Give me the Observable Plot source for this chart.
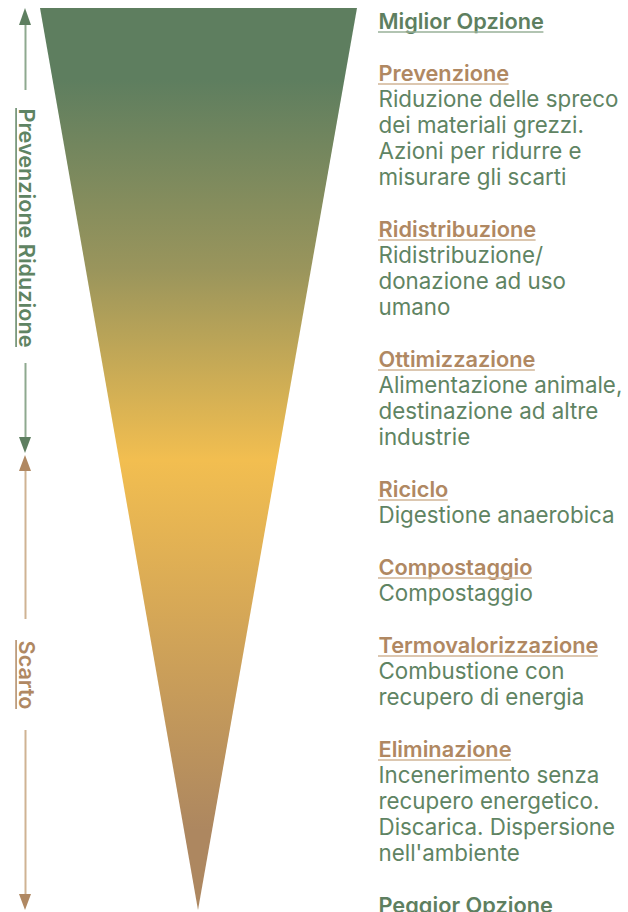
<!DOCTYPE html>
<html>
<head>
<meta charset="utf-8">
<script src="https://cdn.jsdelivr.net/npm/d3@7"></script>
<script src="https://cdn.jsdelivr.net/npm/@observablehq/plot@0.6"></script>
<style>
  html, body { margin: 0; padding: 0; background: #fff; }
  #chart svg { display: block; }
</style>
</head>
<body>
<div id="chart"></div>
<script>
// ---- content ----
const bestLabel = "Miglior Opzione";
const worstLabel = "Peggior Opzione";
const levels = ["Prevenzione", "Ridistribuzione", "Ottimizzazione", "Riciclo", "Compostaggio", "Termovalorizzazione", "Eliminazione"];
const descriptions = [
  ["Riduzione delle spreco", "dei materiali grezzi.", "Azioni per ridurre e", "misurare gli scarti"],
  ["Ridistribuzione/", "donazione ad uso", "umano"],
  ["Alimentazione animale,", "destinazione ad altre", "industrie"],
  ["Digestione anaerobica"],
  ["Compostaggio"],
  ["Combustione con", "recupero di energia"],
  ["Incenerimento senza", "recupero energetico.", "Discarica. Dispersione", "nell'ambiente"]
];
const sideLabels = ["Prevenzione Riduzione", "Scarto"];

// ---- funnel geometry (pixel space) ----
const funnel = [
  {y: 8, x1: 40, x2: 357},
  {y: 910, x1: 198, x2: 198}
];
const sideX = 25;
const shafts = [
  {group: 0, y1: 25, y2: 90}, {group: 0, y1: 363, y2: 438},
  {group: 1, y1: 470, y2: 619}, {group: 1, y1: 730, y2: 895}
];
const heads = [
  {id: "g-up", group: 0, tip: 8, base: 25},
  {id: "g-down", group: 0, tip: 453, base: 437},
  {id: "b-up", group: 1, tip: 455, base: 471},
  {id: "b-down", group: 1, tip: 910, base: 894}
];
const sideLabelY = [227.5, 674.5];

// ---- style ----
const green = "#5e7f60", greenText = "#5f8463", greenLine = "#8ea98f";
const brown = "#b08862", brownLine = "#cfb393";
const textX = 378, lineTop = 21.5, lineHeight = 26;
const family = "Inter, 'Noto Sans', sans-serif";

const ctx = document.createElement("canvas").getContext("2d");
function measure(text, weight, size) {
  ctx.font = `${weight} ${size}px ${family}`;
  return ctx.measureText(text).width;
}
const bodySize = 100 * 240 / measure("Riduzione delle spreco", 400, 100);
const headSize = 100 * 220 / measure("Termovalorizzazione", 600, 100);
const sideSize = 100 * 239 / measure("Prevenzione Riduzione", 600, 100);

// ---- rows of right-hand text ----
const rows = [];
let line = 0;
rows.push({text: bestLabel, kind: "end", line: line, underline: true});
line += 2;
levels.forEach((lv, k) => {
  rows.push({text: lv, kind: "head", line: line, underline: true});
  line += 1;
  descriptions[k].forEach(d => { rows.push({text: d, kind: "body", line: line}); line += 1; });
  line += 1;
});
rows.push({text: worstLabel, kind: "end", line: line, underline: false});
rows.forEach(r => r.y = lineTop + lineHeight * r.line);

const underlines = rows.filter(r => r.underline).map(r => ({
  kind: r.kind,
  y: r.y + 0.32 * headSize + 3,
  x1: textX,
  x2: textX + measure(r.text, 600, headSize)
}));

const headPts = heads.flatMap(h => [
  {id: h.id, group: h.group, y: h.base, x1: sideX - 6, x2: sideX + 6},
  {id: h.id, group: h.group, y: h.tip, x1: sideX, x2: sideX}
]);
const sideRows = sideLabels.map((t, i) => ({text: t, group: i, y: sideLabelY[i], len: measure(t, 600, sideSize)}));

const chart = Plot.plot({
  width: 628,
  height: 912,
  margin: 0,
  x: {domain: [0, 628], range: [0, 628], axis: null},
  y: {domain: [0, 912], range: [0, 912], axis: null},
  marks: [
    Plot.areaX(funnel, {y: "y", x1: "x1", x2: "x2", fill: "url(#funnelGrad)", curve: "linear"}),
    Plot.ruleX(shafts, {x: () => sideX, y1: "y1", y2: "y2", stroke: d => d.group ? brownLine : greenLine, strokeWidth: 2}),
    Plot.areaX(headPts, {y: "y", x1: "x1", x2: "x2", z: "id", fill: d => d.group ? brown : green}),
    Plot.text(sideRows, {x: () => sideX, y: "y", text: "text", rotate: 90, fill: d => d.group ? brown : greenText,
      fontSize: sideSize, fontWeight: 600, fontFamily: family, textAnchor: "middle"}),
    Plot.ruleX(sideRows, {x: () => sideX - 0.32 * sideSize - 2.5, y1: d => d.y - d.len / 2, y2: d => d.y + d.len / 2,
      stroke: d => d.group ? brown : greenText, strokeWidth: 1.5}),
    Plot.text(rows.filter(r => r.kind === "end"), {x: () => textX, y: "y", text: "text", textAnchor: "start",
      fill: green, fontSize: headSize, fontWeight: 600, fontFamily: family}),
    Plot.text(rows.filter(r => r.kind === "head"), {x: () => textX, y: "y", text: "text", textAnchor: "start",
      fill: brown, fontSize: headSize, fontWeight: 600, fontFamily: family}),
    Plot.ruleY(underlines, {y: "y", x1: "x1", x2: "x2", stroke: d => d.kind === "end" ? "#98b199" : "#d0b596", strokeWidth: 1.5}),
    Plot.text(rows.filter(r => r.kind === "body"), {x: () => textX, y: "y", text: "text", textAnchor: "start",
      fill: greenText, fontSize: bodySize, fontWeight: 400, fontFamily: family})
  ]
});

// gradient definition
const yScale = chart.scale("y");
const svg = d3.select(chart);
const grad = svg.insert("defs", ":first-child").append("linearGradient")
  .attr("id", "funnelGrad").attr("gradientUnits", "userSpaceOnUse")
  .attr("x1", 0).attr("x2", 0).attr("y1", yScale.apply(0)).attr("y2", yScale.apply(912));
[[80, "#5e7e5f"], [270, "#9a955c"], [460, "#f2be50"], [830, "#ad8760"], [912, "#ad8760"]].forEach(([y, c]) => {
  grad.append("stop").attr("offset", yScale.apply(y) / 912).attr("stop-color", c);
});

document.getElementById("chart").appendChild(chart);
</script>
</body>
</html>
